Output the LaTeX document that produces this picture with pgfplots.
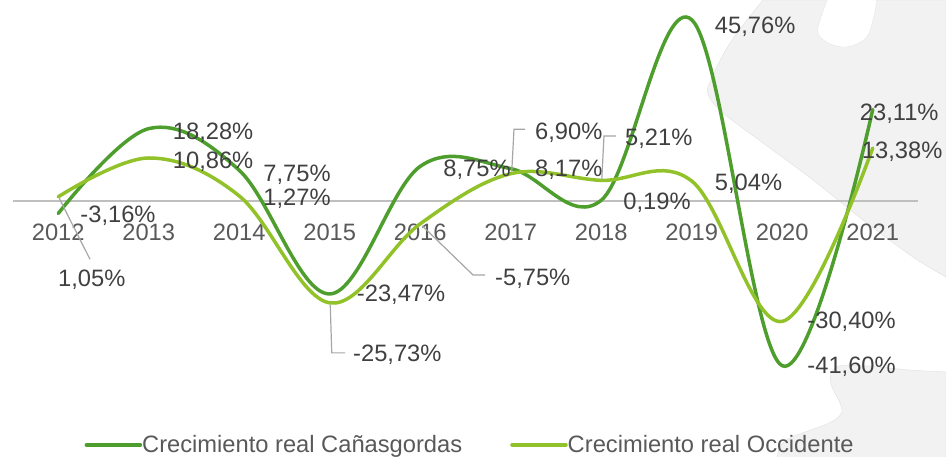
\documentclass[border=0pt]{standalone}
\usepackage{fontspec}
\setmainfont{Liberation Sans}
\usepackage{pgfplots}
\usepackage{pgfplotstable}
\pgfplotsset{compat=1.18}
\definecolor{darkg}{RGB}{78,158,46}
\definecolor{lightg}{RGB}{146,194,42}
\definecolor{lbltext}{RGB}{64,64,64}
\definecolor{ticktext}{RGB}{89,89,89}
\definecolor{zeroline}{RGB}{191,191,191}
\definecolor{leadc}{RGB}{166,166,166}
\definecolor{blob}{RGB}{242,242,242}
\newcommand\lf{\fontsize{23.7bp}{27bp}\selectfont}
\pgfplotstableread{
x y
0 -3.16
1 18.28
2 7.75
3 -23.47
4 8.75
5 8.17
6 0.19
7 45.76
8 -41.60
9 23.11
}\canas
\pgfplotstableread{
x y
0 1.05
1 10.86
2 1.27
3 -25.73
4 -5.75
5 6.90
6 5.21
7 5.04
8 -30.40
9 13.38
}\occ
\begin{document}
\begin{tikzpicture}[
  lbl/.style={anchor=base west, inner sep=0pt, text=lbltext, font=\lf},
  leader/.style={draw=leadc, line width=1.2bp}]
\useasboundingbox (0,0) rectangle (946bp,457bp);
\begin{scope}[yshift=457bp, x=1bp, y=-1bp]
  \clip (0,0) rectangle (946,457);
  \fill[blob, draw=black!12, line width=0.4bp] (946,0) -- plot[smooth, tension=0.6] coordinates {(763,0) (730,43) (711,80) (708,94) (722,112) (763,143) (813,180) (863,220) (913,257) (946,277)} -- cycle;
  \fill[white, draw=black!10, line width=0.4bp] (827,-2) -- plot[smooth, tension=0.6] coordinates {(827,0) (820,20) (818,33) (828,43) (847,47) (866,38) (873,20) (877,0)} -- cycle;
  \fill[blob, draw=black!12, line width=0.4bp] (946,460) -- (946,372) -- plot[smooth, tension=0.6] coordinates {(946,372) (910,370) (851,365) (833,370) (831,384) (840,403) (841,414) (827,424) (792,437) (780,447) (777,460)} -- cycle;
\end{scope}
\begin{axis}[
  at={(13bp,58bp)}, anchor=south west,
  scale only axis, width=905bp, height=396bp,
  xmin=-0.5, xmax=9.5, ymin=-50, ymax=50,
  axis x line=middle, axis y line=none,
  x axis line style={-, draw=zeroline, line width=1.6bp},
  hide obscured x ticks=false,
  xtick={0,...,9},
  xticklabels={2012,2013,2014,2015,2016,2017,2018,2019,2020,2021},
  xtick style={draw=none},
  xticklabel style={anchor=center, yshift=-29bp, font=\lf, text=ticktext},
  ytick=\empty,
  clip=false,
  legend columns=2,
  legend cell align=left,
  legend image code/.code={\draw[#1, line cap=round] (0bp,0bp) -- (54bp,0bp);},
  legend style={at={(0.504,-0.116)}, anchor=center, draw=none, fill=none,
    font=\lf, text=ticktext, inner sep=0pt,
    nodes={inner sep=0pt},
    /tikz/every even column/.append style={column sep=48bp}},
]
\addplot[darkg, line width=3.5bp, smooth, tension=0.6, line cap=round] table[x=x,y=y] {\canas};
\addlegendentry{Crecimiento real Cañasgordas}
\addplot[lightg, line width=3.5bp, smooth, tension=0.6, line cap=round] table[x=x,y=y] {\occ};
\addlegendentry{Crecimiento real Occidente}
% leader lines
\draw[leader] ([xshift=1bp,yshift=-1.5bp]axis cs:0,1.05) -- ([xshift=31.75bp,yshift=-62.5bp]axis cs:0,1.05);
\draw[leader] ([xshift=0.5bp,yshift=-2bp]axis cs:3,-25.73) -- ([xshift=2bp,yshift=-50bp]axis cs:3,-25.73) -- ([xshift=15.25bp,yshift=-50bp]axis cs:3,-25.73);
\draw[leader] ([xshift=2bp,yshift=-2bp]axis cs:4,-5.75) -- ([xshift=52.75bp,yshift=-51.2bp]axis cs:4,-5.75) -- ([xshift=64.75bp,yshift=-51.2bp]axis cs:4,-5.75);
\draw[leader] ([xshift=1bp,yshift=2bp]axis cs:5,6.90) -- ([xshift=3.25bp,yshift=44.4bp]axis cs:5,6.90) -- ([xshift=14.25bp,yshift=44.4bp]axis cs:5,6.90);
\draw[leader] ([xshift=0.5bp,yshift=0.4bp]axis cs:6,5.21) -- ([xshift=2.75bp,yshift=44.4bp]axis cs:6,5.21) -- ([xshift=14.75bp,yshift=44.4bp]axis cs:6,5.21);
% labels dark
\node[lbl, xshift=22bp, yshift=-9bp] at (axis cs:0,-3.16) {-3,16\%};
\node[lbl, xshift=24bp, yshift=-10.9bp] at (axis cs:1,18.28) {18,28\%};
\node[lbl, xshift=24bp, yshift=-10.7bp] at (axis cs:2,7.75) {7,75\%};
\node[lbl, xshift=27bp, yshift=-7.5bp] at (axis cs:3,-23.47) {-23,47\%};
\node[lbl, xshift=23bp, yshift=-10.2bp] at (axis cs:4,8.75) {8,75\%};
\node[lbl, xshift=24.25bp, yshift=-8.2bp] at (axis cs:5,8.17) {8,17\%};
\node[lbl, xshift=22bp, yshift=-9.3bp] at (axis cs:6,0.19) {0,19\%};
\node[lbl, xshift=23bp, yshift=-13.7bp] at (axis cs:7,45.76) {45,76\%};
\node[lbl, xshift=25bp, yshift=-7.8bp] at (axis cs:8,-41.60) {-41,60\%};
\node[lbl, xshift=-13bp, yshift=-11bp] at (axis cs:9,23.11) {23,11\%};
% labels light
\node[lbl, xshift=-0.25bp, yshift=-89.2bp] at (axis cs:0,1.05) {1,05\%};
\node[lbl, xshift=24bp, yshift=-10.5bp] at (axis cs:1,10.86) {10,86\%};
\node[lbl, xshift=24bp, yshift=-9.5bp] at (axis cs:2,1.27) {1,27\%};
\node[lbl, xshift=23.25bp, yshift=-58.5bp] at (axis cs:3,-25.73) {-25,73\%};
\node[lbl, xshift=74.75bp, yshift=-61.7bp] at (axis cs:4,-5.75) {-5,75\%};
\node[lbl, xshift=24.25bp, yshift=34.4bp] at (axis cs:5,6.90) {6,90\%};
\node[lbl, xshift=23.75bp, yshift=35.2bp] at (axis cs:6,5.21) {5,21\%};
\node[lbl, xshift=23bp, yshift=-9.5bp] at (axis cs:7,5.04) {5,04\%};
\node[lbl, xshift=25bp, yshift=-7.1bp] at (axis cs:8,-30.40) {-30,40\%};
\node[lbl, xshift=-11bp, yshift=-10.5bp] at (axis cs:9,13.38) {13,38\%};
\end{axis}
\end{tikzpicture}
\end{document}
